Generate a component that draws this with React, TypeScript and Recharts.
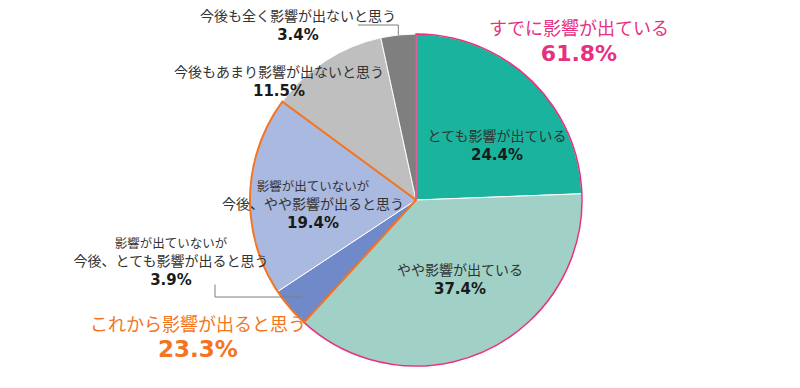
import { PieChart, Pie, Cell } from "recharts";

// slices, clockwise from 12 o'clock
const categories = [
  "とても影響が出ている",
  "やや影響が出ている",
  "影響が出ていないが\n今後、とても影響が出ると思う",
  "影響が出ていないが\n今後、やや影響が出ると思う",
  "今後もあまり影響が出ないと思う",
  "今後も全く影響が出ないと思う",
];
const values = [24.4, 37.4, 3.9, 19.4, 11.5, 3.4];
const sliceColors = ["#19b39e", "#a1d0c6", "#7089c8", "#aab9e0", "#bfbfbf", "#7f7f7f"];

// summary groups drawn as outlines over the slices
const groupNames = ["すでに影響が出ている", "これから影響が出ると思う", ""];
const groupValues = [61.8, 23.3, 14.9];
const groupColors = ["#e6317f", "#f37521", "none"];

const sliceData = categories.map((name, i) => ({ name, value: values[i] }));
const groupData = groupNames.map((name, i) => ({ name, value: groupValues[i] }));

// label placement, offset of first line from pie centre
const sliceLabelPos = [
  { dx: 81, dy: -65, leader: "" },
  { dx: 44, dy: 69, leader: "" },
  { dx: -245, dy: 42, leader: "below" },
  { dx: -103, dy: -15, leader: "" },
  { dx: -137, dy: -129, leader: "" },
  { dx: -118, dy: -185, leader: "right" },
];
const groupLabelPos = [
  { dx: 163, dy: -173 },
  { dx: -218, dy: 123 },
];

const RAD = Math.PI / 180;
const JP = "'Noto Sans CJK JP', 'Noto Sans', sans-serif";
const NUM = "'DejaVu Sans', Verdana, sans-serif";
const TEXT = "#333333";

const polar = (cx: number, cy: number, r: number, a: number) => ({
  x: cx + r * Math.cos(-a * RAD),
  y: cy + r * Math.sin(-a * RAD),
});

// eslint-disable-next-line @typescript-eslint/no-explicit-any
function renderSliceLabel(p: any) {
  const i = p.index;
  const pos = sliceLabelPos[i];
  const x = p.cx + pos.dx;
  const y0 = p.cy + pos.dy;
  const lines = categories[i].split("\n");
  const rows: { t: string; size: number; bold?: boolean; h: number }[] = lines.map((t, k) => ({
    t,
    size: lines.length > 1 && k === 0 ? 12.5 : 14,
    h: lines.length > 1 && k === 0 ? 18 : 19.5,
  }));
  rows.push({ t: `${values[i].toFixed(1)}%`, size: 15, bold: true, h: 0 });
  let y = y0;
  const texts = rows.map((r, k) => {
    const el = (
      <text
        key={k}
        x={x}
        y={y}
        textAnchor="middle"
        dominantBaseline="central"
        fontFamily={r.bold ? NUM : JP}
        fontWeight={r.bold ? 700 : 400}
        fontSize={r.size}
        fill={r.bold ? "#1a1a1a" : TEXT}
      >
        {r.t}
      </text>
    );
    y += r.h;
    return el;
  });
  const lastY = y;
  let leader = null;
  if (pos.leader === "below") {
    const s = polar(p.cx, p.cy, p.outerRadius * 0.9, p.midAngle);
    leader = (
      <polyline
        points={`${x + 44},${lastY + 5} ${x + 44},${s.y} ${s.x},${s.y}`}
        fill="none"
        stroke="#7f7f7f"
        strokeWidth={1}
      />
    );
  } else if (pos.leader === "right") {
    const s = polar(p.cx, p.cy, p.outerRadius, p.midAngle);
    leader = (
      <polyline
        points={`${s.x},${s.y} ${s.x},${y0 + 10} ${x + 60},${y0 + 10}`}
        fill="none"
        stroke="#7f7f7f"
        strokeWidth={1}
      />
    );
  }
  return (
    <g key={`sl-${i}`}>
      {leader}
      {texts}
    </g>
  );
}

// eslint-disable-next-line @typescript-eslint/no-explicit-any
function renderGroupLabel(p: any) {
  const i = p.index;
  if (!groupNames[i]) return null;
  const pos = groupLabelPos[i];
  const x = p.cx + pos.dx;
  const y = p.cy + pos.dy;
  return (
    <g key={`gl-${i}`}>
      <text x={x} y={y} textAnchor="middle" dominantBaseline="central" fontFamily={JP} fontSize={18} fill={groupColors[i]}>
        {groupNames[i]}
      </text>
      <text
        x={x}
        y={y + 26}
        textAnchor="middle"
        dominantBaseline="central"
        fontFamily={NUM}
        fontWeight={700}
        fontSize={i === 0 ? 22 : 23}
        fill={groupColors[i]}
      >
        {`${groupValues[i].toFixed(1)}%`}
      </text>
    </g>
  );
}

export default function App() {
  return (
    <div style={{ width: 800, height: 388, background: "#fff" }}>
      <style>{`body{margin:0}`}</style>
      <PieChart width={800} height={388} margin={{ top: 0, right: 0, bottom: 0, left: 0 }}>
        <Pie
          data={sliceData}
          dataKey="value"
          nameKey="name"
          cx={416}
          cy={200}
          outerRadius={166}
          startAngle={90}
          endAngle={-270}
          stroke="#ffffff"
          strokeWidth={1}
          label={renderSliceLabel}
          labelLine={false}
          isAnimationActive={false}
        >
          {sliceData.map((d, i) => (
            <Cell key={d.name} fill={sliceColors[i]} />
          ))}
        </Pie>
        <Pie
          data={groupData}
          dataKey="value"
          nameKey="name"
          cx={416}
          cy={200}
          outerRadius={166}
          startAngle={90}
          endAngle={-270}
          label={renderGroupLabel}
          labelLine={false}
          isAnimationActive={false}
        >
          {groupData.map((d, i) => (
            <Cell key={`g${i}`} fill="none" stroke={groupColors[i]} strokeWidth={i === 1 ? 2 : 1.5} />
          ))}
        </Pie>
      </PieChart>
    </div>
  );
}
